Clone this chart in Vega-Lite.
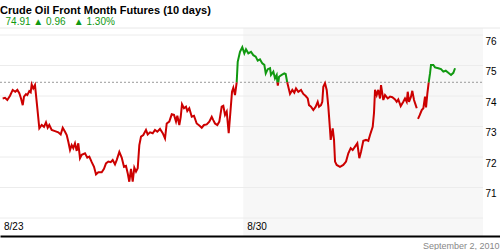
{
  "$schema": "https://vega.github.io/schema/vega-lite/v6.json",
  "width": 500,
  "height": 208,
  "autosize": {"type": "none"},
  "padding": {"left": 0, "right": 0, "top": 28, "bottom": 14},
  "background": "white",
  "config": {
    "view": {"stroke": null},
    "font": "Liberation Sans",
    "axis": {"labelFont": "Liberation Sans", "labelFontSize": 10, "labelColor": "#000", "grid": false, "ticks": false, "tickSize": 0, "domain": false, "labelOverlap": false}
  },
  "title": {
    "text": "Crude Oil Front Month Futures (10 days)",
    "subtitle": "\u200b\u00a0\u00a074.91 \u25b2 0.96\u00a0\u00a0 \u25b2 1.30%",
    "anchor": "start",
    "frame": "group",
    "font": "Liberation Sans",
    "fontSize": 11,
    "fontWeight": "bold",
    "color": "#000000",
    "subtitleFont": "Liberation Sans",
    "subtitleFontSize": 10,
    "subtitleColor": "#119911",
    "subtitlePadding": 1,
    "offset": 1
  },
  "datasets": {
    "prices": [
      {"t":0.055,"p":73.92,"s":1,"c":"down"},{"t":0.103,"p":73.94,"s":1,"c":"down"},{"t":0.150,"p":73.87,"s":1,"c":"down"},{"t":0.206,"p":74.01,"s":1,"c":"down"},{"t":0.261,"p":74.20,"s":1,"c":"down"},{"t":0.314,"p":74.14,"s":1,"c":"down"},{"t":0.356,"p":74.20,"s":1,"c":"down"},{"t":0.397,"p":74.09,"s":1,"c":"down"},{"t":0.432,"p":73.92,"s":1,"c":"down"},{"t":0.467,"p":73.70,"s":1,"c":"down"},{"t":0.493,"p":73.98,"s":1,"c":"down"},{"t":0.534,"p":74.06,"s":1,"c":"down"},{"t":0.561,"p":74.03,"s":1,"c":"down"},{"t":0.602,"p":74.16,"s":1,"c":"down"},{"t":0.631,"p":74.12,"s":1,"c":"down"},{"t":0.651,"p":74.38,"s":1,"c":"down"},{"t":0.684,"p":74.25,"s":1,"c":"down"},{"t":0.719,"p":74.36,"s":1,"c":"down"},{"t":0.740,"p":74.03,"s":1,"c":"down"},{"t":0.767,"p":73.60,"s":1,"c":"down"},{"t":0.808,"p":72.94,"s":1,"c":"down"},{"t":0.857,"p":73.05,"s":1,"c":"down"},{"t":0.904,"p":72.99,"s":1,"c":"down"},{"t":0.945,"p":73.14,"s":1,"c":"down"},{"t":0.980,"p":72.96,"s":1,"c":"down"},{"t":1.013,"p":73.05,"s":1,"c":"down"},{"t":1.062,"p":72.89,"s":1,"c":"down"},{"t":1.130,"p":72.85,"s":1,"c":"down"},{"t":1.198,"p":72.81,"s":1,"c":"down"},{"t":1.247,"p":72.74,"s":1,"c":"down"},{"t":1.289,"p":72.96,"s":1,"c":"down"},{"t":1.336,"p":72.83,"s":1,"c":"down"},{"t":1.371,"p":72.72,"s":1,"c":"down"},{"t":1.404,"p":72.50,"s":1,"c":"down"},{"t":1.439,"p":72.23,"s":1,"c":"down"},{"t":1.473,"p":72.39,"s":1,"c":"down"},{"t":1.506,"p":72.29,"s":1,"c":"down"},{"t":1.541,"p":72.45,"s":1,"c":"down"},{"t":1.576,"p":72.20,"s":1,"c":"down"},{"t":1.609,"p":72.45,"s":1,"c":"down"},{"t":1.644,"p":71.96,"s":1,"c":"down"},{"t":1.679,"p":72.07,"s":1,"c":"down"},{"t":1.747,"p":72.12,"s":1,"c":"down"},{"t":1.794,"p":71.98,"s":1,"c":"down"},{"t":1.835,"p":72.01,"s":1,"c":"down"},{"t":1.885,"p":71.83,"s":1,"c":"down"},{"t":1.932,"p":71.68,"s":1,"c":"down"},{"t":1.973,"p":71.43,"s":1,"c":"down"},{"t":2.020,"p":71.50,"s":1,"c":"down"},{"t":2.090,"p":71.50,"s":1,"c":"down"},{"t":2.137,"p":71.61,"s":1,"c":"down"},{"t":2.178,"p":71.79,"s":1,"c":"down"},{"t":2.226,"p":71.85,"s":1,"c":"down"},{"t":2.275,"p":71.83,"s":1,"c":"down"},{"t":2.316,"p":71.90,"s":1,"c":"down"},{"t":2.363,"p":71.76,"s":1,"c":"down"},{"t":2.398,"p":71.90,"s":1,"c":"down"},{"t":2.452,"p":72.17,"s":1,"c":"down"},{"t":2.501,"p":71.98,"s":1,"c":"down"},{"t":2.548,"p":71.68,"s":1,"c":"down"},{"t":2.589,"p":71.71,"s":1,"c":"down"},{"t":2.624,"p":71.47,"s":1,"c":"down"},{"t":2.657,"p":71.19,"s":1,"c":"down"},{"t":2.692,"p":71.61,"s":1,"c":"down"},{"t":2.727,"p":71.19,"s":1,"c":"down"},{"t":2.760,"p":71.65,"s":1,"c":"down"},{"t":2.795,"p":71.52,"s":1,"c":"down"},{"t":2.830,"p":71.63,"s":1,"c":"down"},{"t":2.863,"p":72.39,"s":1,"c":"down"},{"t":2.898,"p":72.67,"s":1,"c":"down"},{"t":2.945,"p":72.72,"s":1,"c":"down"},{"t":3.000,"p":72.89,"s":1,"c":"down"},{"t":3.035,"p":72.74,"s":1,"c":"down"},{"t":3.083,"p":72.81,"s":1,"c":"down"},{"t":3.138,"p":72.78,"s":1,"c":"down"},{"t":3.185,"p":72.89,"s":1,"c":"down"},{"t":3.233,"p":72.83,"s":1,"c":"down"},{"t":3.288,"p":72.92,"s":1,"c":"down"},{"t":3.344,"p":72.78,"s":1,"c":"down"},{"t":3.391,"p":72.61,"s":1,"c":"down"},{"t":3.426,"p":73.10,"s":1,"c":"down"},{"t":3.479,"p":73.16,"s":1,"c":"down"},{"t":3.529,"p":73.40,"s":1,"c":"down"},{"t":3.576,"p":73.38,"s":1,"c":"down"},{"t":3.617,"p":73.16,"s":1,"c":"down"},{"t":3.644,"p":73.35,"s":1,"c":"down"},{"t":3.685,"p":73.05,"s":1,"c":"down"},{"t":3.714,"p":73.32,"s":1,"c":"down"},{"t":3.740,"p":73.73,"s":1,"c":"down"},{"t":3.781,"p":73.60,"s":1,"c":"down"},{"t":3.822,"p":73.65,"s":1,"c":"down"},{"t":3.849,"p":73.51,"s":1,"c":"down"},{"t":3.890,"p":73.60,"s":1,"c":"down"},{"t":3.940,"p":73.32,"s":1,"c":"down"},{"t":3.987,"p":73.35,"s":1,"c":"down"},{"t":4.042,"p":73.10,"s":1,"c":"down"},{"t":4.096,"p":73.03,"s":1,"c":"down"},{"t":4.145,"p":72.96,"s":1,"c":"down"},{"t":4.192,"p":73.05,"s":1,"c":"down"},{"t":4.248,"p":73.07,"s":1,"c":"down"},{"t":4.301,"p":73.16,"s":1,"c":"down"},{"t":4.351,"p":73.32,"s":1,"c":"down"},{"t":4.383,"p":73.21,"s":1,"c":"down"},{"t":4.418,"p":73.10,"s":1,"c":"down"},{"t":4.466,"p":73.05,"s":1,"c":"down"},{"t":4.507,"p":73.16,"s":1,"c":"down"},{"t":4.556,"p":73.65,"s":1,"c":"down"},{"t":4.589,"p":73.68,"s":1,"c":"down"},{"t":4.624,"p":73.38,"s":1,"c":"down"},{"t":4.659,"p":73.49,"s":1,"c":"down"},{"t":4.700,"p":72.78,"s":1,"c":"down"},{"t":4.727,"p":73.32,"s":1,"c":"down"},{"t":4.768,"p":74.14,"s":1,"c":"down"},{"t":4.795,"p":74.27,"s":1,"c":"down"},{"t":4.829,"p":74.03,"s":1,"c":"down"},{"t":4.864,"p":74.45,"s":1,"c":"down"},
      {"t":4.864,"p":74.45,"s":2,"c":"up"},{"t":4.885,"p":75.12,"s":2,"c":"up"},{"t":4.932,"p":75.45,"s":2,"c":"up"},{"t":4.979,"p":75.60,"s":2,"c":"up"},{"t":5.021,"p":75.40,"s":2,"c":"up"},{"t":5.055,"p":75.53,"s":2,"c":"up"},{"t":5.103,"p":75.40,"s":2,"c":"up"},{"t":5.158,"p":75.45,"s":2,"c":"up"},{"t":5.205,"p":75.34,"s":2,"c":"up"},{"t":5.255,"p":75.29,"s":2,"c":"up"},{"t":5.296,"p":75.16,"s":2,"c":"up"},{"t":5.343,"p":75.20,"s":2,"c":"up"},{"t":5.390,"p":75.07,"s":2,"c":"up"},{"t":5.432,"p":75.02,"s":2,"c":"up"},{"t":5.461,"p":74.74,"s":2,"c":"up"},{"t":5.502,"p":74.88,"s":2,"c":"up"},{"t":5.549,"p":74.91,"s":2,"c":"up"},{"t":5.569,"p":74.69,"s":2,"c":"up"},{"t":5.617,"p":74.80,"s":2,"c":"up"},{"t":5.651,"p":74.58,"s":2,"c":"up"},{"t":5.686,"p":74.69,"s":2,"c":"up"},{"t":5.700,"p":74.45,"s":2,"c":"up"},
      {"t":5.700,"p":74.45,"s":3,"c":"down"},{"t":5.709,"p":74.34,"s":3,"c":"down"},{"t":5.720,"p":74.45,"s":3,"c":"down"},
      {"t":5.720,"p":74.45,"s":4,"c":"up"},{"t":5.734,"p":74.63,"s":4,"c":"up"},{"t":5.789,"p":74.69,"s":4,"c":"up"},{"t":5.843,"p":74.74,"s":4,"c":"up"},{"t":5.871,"p":74.72,"s":4,"c":"up"},{"t":5.902,"p":74.45,"s":4,"c":"up"},
      {"t":5.902,"p":74.45,"s":5,"c":"down"},{"t":5.960,"p":74.07,"s":5,"c":"down"},{"t":6.007,"p":74.20,"s":5,"c":"down"},{"t":6.048,"p":74.11,"s":5,"c":"down"},{"t":6.083,"p":74.25,"s":5,"c":"down"},{"t":6.130,"p":74.14,"s":5,"c":"down"},{"t":6.186,"p":74.20,"s":5,"c":"down"},{"t":6.233,"p":74.07,"s":5,"c":"down"},{"t":6.282,"p":74.00,"s":5,"c":"down"},{"t":6.324,"p":73.92,"s":5,"c":"down"},{"t":6.350,"p":73.70,"s":5,"c":"down"},{"t":6.391,"p":73.65,"s":5,"c":"down"},{"t":6.439,"p":73.54,"s":5,"c":"down"},{"t":6.488,"p":73.65,"s":5,"c":"down"},{"t":6.529,"p":73.81,"s":5,"c":"down"},{"t":6.556,"p":73.65,"s":5,"c":"down"},{"t":6.597,"p":73.70,"s":5,"c":"down"},{"t":6.623,"p":73.81,"s":5,"c":"down"},{"t":6.644,"p":74.30,"s":5,"c":"down"},{"t":6.679,"p":74.42,"s":5,"c":"down"},{"t":6.714,"p":74.20,"s":5,"c":"down"},{"t":6.747,"p":73.65,"s":5,"c":"down"},{"t":6.782,"p":72.89,"s":5,"c":"down"},{"t":6.796,"p":72.56,"s":5,"c":"down"},{"t":6.837,"p":72.94,"s":5,"c":"down"},{"t":6.864,"p":72.56,"s":5,"c":"down"},{"t":6.885,"p":71.85,"s":5,"c":"down"},{"t":6.919,"p":71.74,"s":5,"c":"down"},{"t":6.987,"p":71.68,"s":5,"c":"down"},{"t":7.055,"p":71.74,"s":5,"c":"down"},{"t":7.111,"p":71.85,"s":5,"c":"down"},{"t":7.158,"p":72.12,"s":5,"c":"down"},{"t":7.207,"p":72.29,"s":5,"c":"down"},{"t":7.248,"p":72.23,"s":5,"c":"down"},{"t":7.296,"p":72.34,"s":5,"c":"down"},{"t":7.343,"p":72.45,"s":5,"c":"down"},{"t":7.384,"p":71.96,"s":5,"c":"down"},{"t":7.419,"p":72.17,"s":5,"c":"down"},{"t":7.466,"p":72.53,"s":5,"c":"down"},{"t":7.522,"p":72.56,"s":5,"c":"down"},{"t":7.569,"p":72.53,"s":5,"c":"down"},{"t":7.604,"p":72.72,"s":5,"c":"down"},{"t":7.659,"p":72.99,"s":5,"c":"down"},{"t":7.686,"p":73.45,"s":5,"c":"down"},{"t":7.707,"p":74.20,"s":5,"c":"down"},{"t":7.741,"p":74.03,"s":5,"c":"down"},{"t":7.774,"p":74.20,"s":5,"c":"down"},{"t":7.809,"p":73.92,"s":5,"c":"down"},{"t":7.830,"p":74.36,"s":5,"c":"down"},{"t":7.877,"p":73.87,"s":5,"c":"down"},{"t":7.912,"p":74.03,"s":5,"c":"down"},{"t":7.968,"p":73.92,"s":5,"c":"down"},{"t":8.015,"p":73.98,"s":5,"c":"down"},{"t":8.062,"p":73.96,"s":5,"c":"down"},{"t":8.118,"p":73.89,"s":5,"c":"down"},{"t":8.152,"p":73.81,"s":5,"c":"down"},{"t":8.185,"p":73.89,"s":5,"c":"down"},{"t":8.235,"p":73.67,"s":5,"c":"down"},{"t":8.288,"p":73.81,"s":5,"c":"down"},{"t":8.323,"p":73.92,"s":5,"c":"down"},{"t":8.358,"p":73.81,"s":5,"c":"down"},{"t":8.379,"p":74.14,"s":5,"c":"down"},{"t":8.405,"p":73.81,"s":5,"c":"down"},{"t":8.446,"p":73.98,"s":5,"c":"down"},{"t":8.473,"p":74.17,"s":5,"c":"down"},{"t":8.508,"p":73.87,"s":5,"c":"down"},{"t":8.543,"p":73.70,"s":5,"c":"down"},{"t":8.564,"p":73.60,"s":5,"c":"down"},
      {"t":8.590,"p":73.25,"s":6,"c":"down"},{"t":8.625,"p":73.37,"s":6,"c":"down"},{"t":8.667,"p":73.54,"s":6,"c":"down"},{"t":8.700,"p":73.60,"s":6,"c":"down"},{"t":8.734,"p":73.98,"s":6,"c":"down"},{"t":8.755,"p":73.63,"s":6,"c":"down"},{"t":8.782,"p":74.08,"s":6,"c":"down"},{"t":8.810,"p":74.45,"s":6,"c":"down"},
      {"t":8.810,"p":74.45,"s":7,"c":"up"},{"t":8.837,"p":74.74,"s":7,"c":"up"},{"t":8.857,"p":75.02,"s":7,"c":"up"},{"t":8.905,"p":75.02,"s":7,"c":"up"},{"t":8.940,"p":74.94,"s":7,"c":"up"},{"t":9.007,"p":74.91,"s":7,"c":"up"},{"t":9.063,"p":74.88,"s":7,"c":"up"},{"t":9.110,"p":74.80,"s":7,"c":"up"},{"t":9.160,"p":74.83,"s":7,"c":"up"},{"t":9.213,"p":74.76,"s":7,"c":"up"},{"t":9.268,"p":74.69,"s":7,"c":"up"},{"t":9.316,"p":74.76,"s":7,"c":"up"},{"t":9.351,"p":74.91,"s":7,"c":"up"}
    ]
  },
  "layer": [
    {
      "data": {"values": [{"t": 5, "t2": 9.926}]},
      "mark": {"type": "rect", "color": "#f7f7f7"},
      "encoding": {
        "x": {"field": "t", "type": "quantitative", "scale": {"domain": [0, 10.275], "nice": false, "zero": false}},
        "x2": {"field": "t2"}
      }
    },
    {
      "data": {"values": [{"p": 70}, {"p": 71}, {"p": 72}, {"p": 73}, {"p": 74}, {"p": 75}, {"p": 76}]},
      "mark": {"type": "rule", "color": "#ececec", "strokeWidth": 1},
      "encoding": {
        "y": {"field": "p", "type": "quantitative"},
        "x": {"datum": 0, "type": "quantitative"},
        "x2": {"datum": 9.926}
      }
    },
    {
      "data": {"values": [{"p": 76.23}]},
      "mark": {"type": "rule", "color": "#e8e8e8", "strokeWidth": 1},
      "encoding": {
        "y": {"field": "p", "type": "quantitative"}
      }
    },
    {
      "data": {"values": [{"p": 74.45}]},
      "mark": {"type": "rule", "color": "#999999", "strokeWidth": 1, "strokeDash": [2, 2]},
      "encoding": {
        "y": {"field": "p", "type": "quantitative"},
        "x": {"datum": 0, "type": "quantitative"},
        "x2": {"datum": 9.926}
      }
    },
    {
      "data": {"name": "prices"},
      "mark": {"type": "line", "strokeWidth": 2, "interpolate": "linear"},
      "encoding": {
        "x": {
          "field": "t", "type": "quantitative",
          "scale": {"domain": [0, 10.275], "nice": false, "zero": false},
          "axis": {
            "values": [0, 5],
            "labelExpr": "datum.value == 0 ? '8/23' : '8/30'",
            "labelAlign": "left",
            "labelOffset": 3.5,
            "labelBaseline": "alphabetic",
            "labelPadding": -7,
            "labelFlush": false,
            "labelOverlap": false,
            "labelBound": false,
            "domain": true,
            "domainColor": "#000000",
            "domainWidth": 2,
            "zindex": 1,
            "title": "September 2, 2010",
            "titleFont": "Liberation Sans",
            "titleFontSize": 9,
            "titleFontWeight": "normal",
            "titleColor": "#888888",
            "titleAnchor": "end",
            "titleAlign": "right",
            "titleBaseline": "alphabetic",
            "titleX": 499,
            "titleY": 12
          }
        },
        "y": {
          "field": "p", "type": "quantitative",
          "scale": {"domain": [69.41, 76.23], "nice": false, "zero": false},
          "axis": {
            "orient": "right",
            "values": [71, 72, 73, 74, 75, 76],
            "labelAlign": "left",
            "labelPadding": -15,
            "labelBaseline": "alphabetic",
            "labelOffset": 9,
            "labelOverlap": false,
            "zindex": 1,
            "title": null
          }
        },
        "color": {"field": "c", "type": "nominal", "scale": {"domain": ["down", "up"], "range": ["#cc0000", "#119911"]}, "legend": null},
        "detail": {"field": "s", "type": "nominal"}
      }
    }
  ]
}
